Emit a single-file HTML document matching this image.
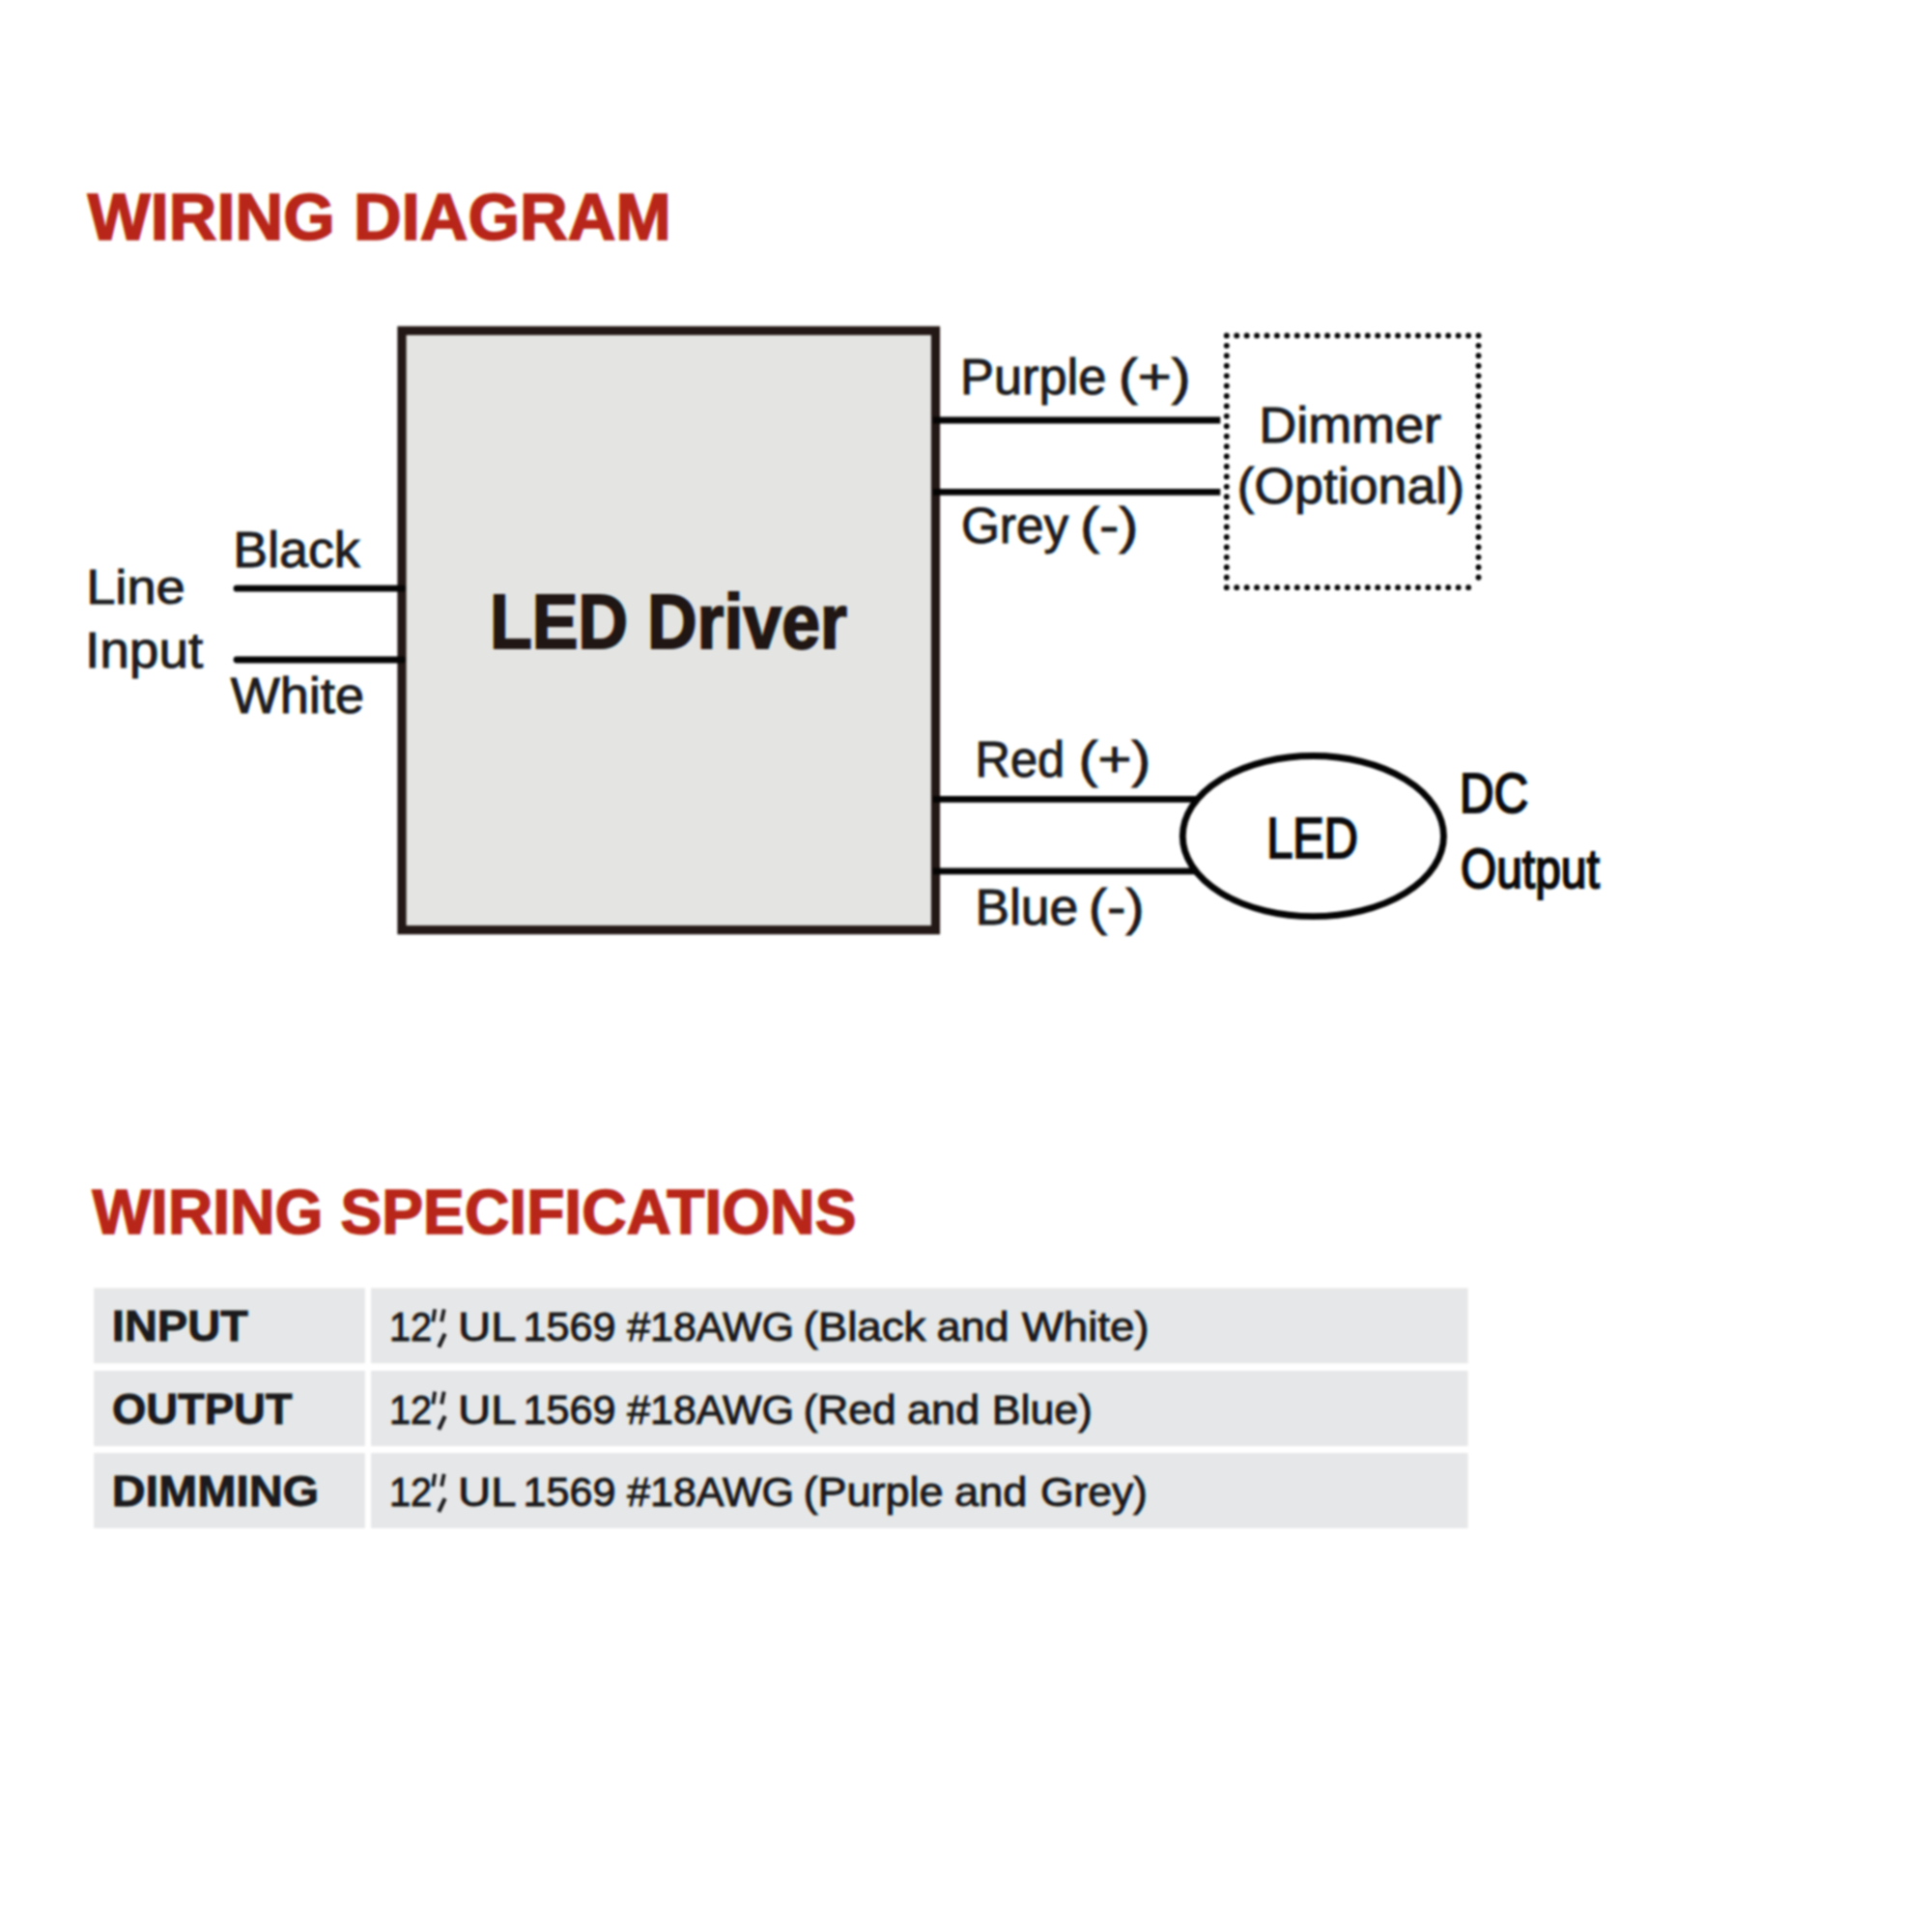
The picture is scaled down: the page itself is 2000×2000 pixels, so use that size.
<!DOCTYPE html>
<html><head><meta charset="utf-8"><title>Wiring Diagram</title>
<style>
html,body{margin:0;padding:0;background:#fff;}
body{width:2000px;height:2000px;overflow:hidden;}
svg{display:block;}
text{font-family:"Liberation Sans",sans-serif;white-space:pre;}
text,use{mix-blend-mode:multiply;}
</style></head>
<body>
<svg width="2000" height="2000" viewBox="0 0 2000 2000">
<defs>
<text id="h1" x="90.68" y="247.7" font-size="67.6" font-weight="bold" stroke-width="1.6" textLength="604.18" lengthAdjust="spacingAndGlyphs">WIRING DIAGRAM</text>
<text id="black" x="241.27" y="586.9" font-size="51.0" font-weight="normal" stroke-width="1.0" textLength="131.40" lengthAdjust="spacingAndGlyphs">Black</text>
<text id="line" x="89.24" y="624.5" font-size="50.0" font-weight="normal" stroke-width="1.0" textLength="102.44" lengthAdjust="spacingAndGlyphs">Line</text>
<text id="input" x="88.12" y="691.1" font-size="51.0" font-weight="normal" stroke-width="1.0" textLength="122.03" lengthAdjust="spacingAndGlyphs">Input</text>
<text id="white" x="238.68" y="737.6" font-size="51.0" font-weight="normal" stroke-width="1.0" textLength="138.32" lengthAdjust="spacingAndGlyphs">White</text>
<text id="driver" x="506.93" y="671.3" font-size="79.6" font-weight="bold" stroke-width="2.0" textLength="369.86" lengthAdjust="spacingAndGlyphs">LED Driver</text>
<text id="purple" x="993.99" y="408.2" font-size="51.0" font-weight="normal" stroke-width="1.0" textLength="151.38" lengthAdjust="spacingAndGlyphs">Purple</text>
<text id="purple2" x="1157.85" y="408.2" font-size="51.0" font-weight="normal" stroke-width="1.0" textLength="74.69" lengthAdjust="spacingAndGlyphs">(+)</text>
<text id="grey" x="994.97" y="561.5" font-size="51.0" font-weight="normal" stroke-width="1.0" textLength="111.18" lengthAdjust="spacingAndGlyphs">Grey</text>
<text id="grey2" x="1117.99" y="561.5" font-size="51.0" font-weight="normal" stroke-width="1.0" textLength="60.39" lengthAdjust="spacingAndGlyphs">(-)</text>
<text id="dimmer" x="1303.26" y="458.1" font-size="51.0" font-weight="normal" stroke-width="1.0" textLength="188.76" lengthAdjust="spacingAndGlyphs">Dimmer</text>
<text id="optional" x="1280.45" y="521.2" font-size="51.0" font-weight="normal" stroke-width="1.0" textLength="235.61" lengthAdjust="spacingAndGlyphs">(Optional)</text>
<text id="red" x="1009.39" y="803.6" font-size="51.0" font-weight="normal" stroke-width="1.0" textLength="92.75" lengthAdjust="spacingAndGlyphs">Red</text>
<text id="red2" x="1116.48" y="803.6" font-size="51.0" font-weight="normal" stroke-width="1.0" textLength="74.82" lengthAdjust="spacingAndGlyphs">(+)</text>
<text id="blue" x="1009.51" y="957.2" font-size="51.0" font-weight="normal" stroke-width="1.0" textLength="106.56" lengthAdjust="spacingAndGlyphs">Blue</text>
<text id="blue2" x="1126.80" y="957.2" font-size="51.0" font-weight="normal" stroke-width="1.0" textLength="57.84" lengthAdjust="spacingAndGlyphs">(-)</text>
<text id="led" x="1311.27" y="888.0" font-size="59.2" font-weight="normal" stroke-width="2.1" textLength="94.61" lengthAdjust="spacingAndGlyphs">LED</text>
<text id="dc" x="1510.90" y="841.0" font-size="56.5" font-weight="normal" stroke-width="2.1" textLength="71.17" lengthAdjust="spacingAndGlyphs">DC</text>
<text id="output" x="1511.99" y="918.9" font-size="58.0" font-weight="normal" stroke-width="2.1" textLength="143.77" lengthAdjust="spacingAndGlyphs">Output</text>
<text id="h2" x="95.50" y="1276.7" font-size="64.8" font-weight="bold" stroke-width="1.5" textLength="790.98" lengthAdjust="spacingAndGlyphs">WIRING SPECIFICATIONS</text>
<text id="t1l" x="115.87" y="1388.3" font-size="45.0" font-weight="bold" stroke-width="0.9" textLength="140.96" lengthAdjust="spacingAndGlyphs">INPUT</text>
<text id="t2l" x="115.98" y="1474.0" font-size="45.0" font-weight="bold" stroke-width="0.9" textLength="186.63" lengthAdjust="spacingAndGlyphs">OUTPUT</text>
<text id="t3l" x="115.78" y="1559.2" font-size="45.0" font-weight="bold" stroke-width="0.9" textLength="214.35" lengthAdjust="spacingAndGlyphs">DIMMING</text>
<text id="v0_0" x="403.03" y="1388.4" font-size="42.6" font-weight="normal" stroke-width="1.0" textLength="44.11" lengthAdjust="spacingAndGlyphs">12</text>
<text id="v0_1" x="474.08" y="1388.4" font-size="42.6" font-weight="normal" stroke-width="1.0" textLength="60.32" lengthAdjust="spacingAndGlyphs">UL</text>
<text id="v0_2" x="541.60" y="1388.4" font-size="42.6" font-weight="normal" stroke-width="1.0" textLength="95.91" lengthAdjust="spacingAndGlyphs">1569</text>
<text id="v0_3" x="649.18" y="1388.4" font-size="42.6" font-weight="normal" stroke-width="1.0" textLength="172.70" lengthAdjust="spacingAndGlyphs">#18AWG</text>
<text id="v0_4" x="831.55" y="1388.4" font-size="42.6" font-weight="normal" stroke-width="1.0" textLength="126.79" lengthAdjust="spacingAndGlyphs">(Black</text>
<text id="v0_5" x="969.57" y="1388.4" font-size="42.6" font-weight="normal" stroke-width="1.0" textLength="74.98" lengthAdjust="spacingAndGlyphs">and</text>
<text id="v0_6" x="1057.69" y="1388.4" font-size="42.6" font-weight="normal" stroke-width="1.0" textLength="131.86" lengthAdjust="spacingAndGlyphs">White)</text>
<text id="v1_0" x="403.03" y="1473.7" font-size="42.6" font-weight="normal" stroke-width="1.0" textLength="44.11" lengthAdjust="spacingAndGlyphs">12</text>
<text id="v1_1" x="474.08" y="1473.7" font-size="42.6" font-weight="normal" stroke-width="1.0" textLength="60.32" lengthAdjust="spacingAndGlyphs">UL</text>
<text id="v1_2" x="541.60" y="1473.7" font-size="42.6" font-weight="normal" stroke-width="1.0" textLength="95.91" lengthAdjust="spacingAndGlyphs">1569</text>
<text id="v1_3" x="649.18" y="1473.7" font-size="42.6" font-weight="normal" stroke-width="1.0" textLength="172.70" lengthAdjust="spacingAndGlyphs">#18AWG</text>
<text id="v1_4" x="831.60" y="1473.7" font-size="42.6" font-weight="normal" stroke-width="1.0" textLength="95.97" lengthAdjust="spacingAndGlyphs">(Red</text>
<text id="v1_5" x="939.01" y="1473.7" font-size="42.6" font-weight="normal" stroke-width="1.0" textLength="75.14" lengthAdjust="spacingAndGlyphs">and</text>
<text id="v1_6" x="1026.86" y="1473.7" font-size="42.6" font-weight="normal" stroke-width="1.0" textLength="104.12" lengthAdjust="spacingAndGlyphs">Blue)</text>
<text id="v2_0" x="403.03" y="1558.9" font-size="42.6" font-weight="normal" stroke-width="1.0" textLength="44.11" lengthAdjust="spacingAndGlyphs">12</text>
<text id="v2_1" x="474.08" y="1558.9" font-size="42.6" font-weight="normal" stroke-width="1.0" textLength="60.32" lengthAdjust="spacingAndGlyphs">UL</text>
<text id="v2_2" x="541.60" y="1558.9" font-size="42.6" font-weight="normal" stroke-width="1.0" textLength="95.91" lengthAdjust="spacingAndGlyphs">1569</text>
<text id="v2_3" x="649.18" y="1558.9" font-size="42.6" font-weight="normal" stroke-width="1.0" textLength="172.70" lengthAdjust="spacingAndGlyphs">#18AWG</text>
<text id="v2_4" x="831.59" y="1558.9" font-size="42.6" font-weight="normal" stroke-width="1.0" textLength="144.93" lengthAdjust="spacingAndGlyphs">(Purple</text>
<text id="v2_5" x="988.09" y="1558.9" font-size="42.6" font-weight="normal" stroke-width="1.0" textLength="75.17" lengthAdjust="spacingAndGlyphs">and</text>
<text id="v2_6" x="1076.98" y="1558.9" font-size="42.6" font-weight="normal" stroke-width="1.0" textLength="110.92" lengthAdjust="spacingAndGlyphs">Grey)</text>
</defs>
<defs><filter id="soft" x="0" y="0" width="2000" height="2000" filterUnits="userSpaceOnUse" color-interpolation-filters="sRGB"><feGaussianBlur stdDeviation="1.1"/></filter></defs>
<g filter="url(#soft)">
<rect x="-10" y="-10" width="2020" height="2020" fill="#ffffff"/>
<rect x="97.2" y="1333.4" width="280.6" height="77.9" fill="#e6e7e8"/>
<rect x="384" y="1333.4" width="1135.6" height="77.9" fill="#e6e7e8"/>
<rect x="97.2" y="1419.0" width="280.6" height="78.0" fill="#e6e7e8"/>
<rect x="384" y="1419.0" width="1135.6" height="78.0" fill="#e6e7e8"/>
<rect x="97.2" y="1504.2" width="280.6" height="77.8" fill="#e6e7e8"/>
<rect x="384" y="1504.2" width="1135.6" height="77.8" fill="#e6e7e8"/>
<g stroke="#1d1c20" stroke-linecap="butt" fill="none"><path d="M450.2 1355.3L448.2 1368.2M459.7 1355.3L457.1 1368.2" stroke-width="3.8"/><path d="M460.6 1380.6L454.2 1394.6" stroke-width="4.2"/></g>
<g stroke="#1d1c20" stroke-linecap="butt" fill="none"><path d="M450.2 1440.6L448.2 1453.5M459.7 1440.6L457.1 1453.5" stroke-width="3.8"/><path d="M460.6 1465.9L454.2 1479.9" stroke-width="4.2"/></g>
<g stroke="#1d1c20" stroke-linecap="butt" fill="none"><path d="M450.2 1525.8L448.2 1538.7M459.7 1525.8L457.1 1538.7" stroke-width="3.8"/><path d="M460.6 1551.1L454.2 1565.1" stroke-width="4.2"/></g>
<rect x="416" y="342.3" width="552.5" height="620.4" fill="#e4e4e3" stroke="#231815" stroke-width="9.2"/>
<g stroke="#050404" stroke-width="6.8" stroke-linecap="round">
<line x1="245.0" y1="609.2" x2="416.5" y2="609.2"/>
<line x1="245.0" y1="683" x2="416.5" y2="683"/>
</g>
<g stroke="#050404" stroke-width="6.8" stroke-linecap="butt">
<line x1="966" y1="435" x2="1263.3" y2="435"/>
<line x1="966" y1="509.4" x2="1263.3" y2="509.4"/>
<line x1="966" y1="827.3" x2="1250" y2="827.3"/>
<line x1="966" y1="901.8" x2="1250" y2="901.8"/>
</g>
<path d="M1530.55 597.72V347.4H1269.8V608.15H1520.3" fill="none" stroke="#050404" stroke-width="5.9" stroke-linecap="round" stroke-dasharray="0 10.43"/>
<ellipse cx="1359.4" cy="865.6" rx="135.1" ry="83.1" fill="#ffffff" stroke="#050404" stroke-width="6.8"/>
<use href="#h1" x="0.7" fill="#b8ffff" stroke="#b8ffff"/><use href="#h1" fill="#ff26ff" stroke="#ff26ff"/><use href="#h1" x="-0.7" fill="#ffff1a" stroke="#ffff1a"/>
<use href="#black" x="0.7" fill="#1dffff" stroke="#1dffff"/><use href="#black" fill="#ff1cff" stroke="#ff1cff"/><use href="#black" x="-0.7" fill="#ffff20" stroke="#ffff20"/>
<use href="#line" x="0.7" fill="#1dffff" stroke="#1dffff"/><use href="#line" fill="#ff1cff" stroke="#ff1cff"/><use href="#line" x="-0.7" fill="#ffff20" stroke="#ffff20"/>
<use href="#input" x="0.7" fill="#1dffff" stroke="#1dffff"/><use href="#input" fill="#ff1cff" stroke="#ff1cff"/><use href="#input" x="-0.7" fill="#ffff20" stroke="#ffff20"/>
<use href="#white" x="0.7" fill="#1dffff" stroke="#1dffff"/><use href="#white" fill="#ff1cff" stroke="#ff1cff"/><use href="#white" x="-0.7" fill="#ffff20" stroke="#ffff20"/>
<use href="#driver" x="0.7" fill="#23ffff" stroke="#23ffff"/><use href="#driver" fill="#ff18ff" stroke="#ff18ff"/><use href="#driver" x="-0.7" fill="#ffff15" stroke="#ffff15"/>
<use href="#purple" x="0.7" fill="#1dffff" stroke="#1dffff"/><use href="#purple" fill="#ff1cff" stroke="#ff1cff"/><use href="#purple" x="-0.7" fill="#ffff20" stroke="#ffff20"/>
<use href="#purple2" x="0.7" fill="#1dffff" stroke="#1dffff"/><use href="#purple2" fill="#ff1cff" stroke="#ff1cff"/><use href="#purple2" x="-0.7" fill="#ffff20" stroke="#ffff20"/>
<use href="#grey" x="0.7" fill="#1dffff" stroke="#1dffff"/><use href="#grey" fill="#ff1cff" stroke="#ff1cff"/><use href="#grey" x="-0.7" fill="#ffff20" stroke="#ffff20"/>
<use href="#grey2" x="0.7" fill="#1dffff" stroke="#1dffff"/><use href="#grey2" fill="#ff1cff" stroke="#ff1cff"/><use href="#grey2" x="-0.7" fill="#ffff20" stroke="#ffff20"/>
<use href="#dimmer" x="0.7" fill="#1dffff" stroke="#1dffff"/><use href="#dimmer" fill="#ff1cff" stroke="#ff1cff"/><use href="#dimmer" x="-0.7" fill="#ffff20" stroke="#ffff20"/>
<use href="#optional" x="0.7" fill="#1dffff" stroke="#1dffff"/><use href="#optional" fill="#ff1cff" stroke="#ff1cff"/><use href="#optional" x="-0.7" fill="#ffff20" stroke="#ffff20"/>
<use href="#red" x="0.7" fill="#1dffff" stroke="#1dffff"/><use href="#red" fill="#ff1cff" stroke="#ff1cff"/><use href="#red" x="-0.7" fill="#ffff20" stroke="#ffff20"/>
<use href="#red2" x="0.7" fill="#1dffff" stroke="#1dffff"/><use href="#red2" fill="#ff1cff" stroke="#ff1cff"/><use href="#red2" x="-0.7" fill="#ffff20" stroke="#ffff20"/>
<use href="#blue" x="0.7" fill="#1dffff" stroke="#1dffff"/><use href="#blue" fill="#ff1cff" stroke="#ff1cff"/><use href="#blue" x="-0.7" fill="#ffff20" stroke="#ffff20"/>
<use href="#blue2" x="0.7" fill="#1dffff" stroke="#1dffff"/><use href="#blue2" fill="#ff1cff" stroke="#ff1cff"/><use href="#blue2" x="-0.7" fill="#ffff20" stroke="#ffff20"/>
<use href="#led" x="0.7" fill="#0cffff" stroke="#0cffff"/><use href="#led" fill="#ff0bff" stroke="#ff0bff"/><use href="#led" x="-0.7" fill="#ffff0d" stroke="#ffff0d"/>
<use href="#dc" x="0.7" fill="#0cffff" stroke="#0cffff"/><use href="#dc" fill="#ff0bff" stroke="#ff0bff"/><use href="#dc" x="-0.7" fill="#ffff0d" stroke="#ffff0d"/>
<use href="#output" x="0.7" fill="#0cffff" stroke="#0cffff"/><use href="#output" fill="#ff0bff" stroke="#ff0bff"/><use href="#output" x="-0.7" fill="#ffff0d" stroke="#ffff0d"/>
<use href="#h2" x="0.7" fill="#b8ffff" stroke="#b8ffff"/><use href="#h2" fill="#ff26ff" stroke="#ff26ff"/><use href="#h2" x="-0.7" fill="#ffff1a" stroke="#ffff1a"/>
<use href="#t1l" x="0.7" fill="#1dffff" stroke="#1dffff"/><use href="#t1l" fill="#ff1cff" stroke="#ff1cff"/><use href="#t1l" x="-0.7" fill="#ffff20" stroke="#ffff20"/>
<use href="#t2l" x="0.7" fill="#1dffff" stroke="#1dffff"/><use href="#t2l" fill="#ff1cff" stroke="#ff1cff"/><use href="#t2l" x="-0.7" fill="#ffff20" stroke="#ffff20"/>
<use href="#t3l" x="0.7" fill="#1dffff" stroke="#1dffff"/><use href="#t3l" fill="#ff1cff" stroke="#ff1cff"/><use href="#t3l" x="-0.7" fill="#ffff20" stroke="#ffff20"/>
<use href="#v0_0" x="0.7" fill="#1dffff" stroke="#1dffff"/><use href="#v0_0" fill="#ff1cff" stroke="#ff1cff"/><use href="#v0_0" x="-0.7" fill="#ffff20" stroke="#ffff20"/>
<use href="#v0_1" x="0.7" fill="#1dffff" stroke="#1dffff"/><use href="#v0_1" fill="#ff1cff" stroke="#ff1cff"/><use href="#v0_1" x="-0.7" fill="#ffff20" stroke="#ffff20"/>
<use href="#v0_2" x="0.7" fill="#1dffff" stroke="#1dffff"/><use href="#v0_2" fill="#ff1cff" stroke="#ff1cff"/><use href="#v0_2" x="-0.7" fill="#ffff20" stroke="#ffff20"/>
<use href="#v0_3" x="0.7" fill="#1dffff" stroke="#1dffff"/><use href="#v0_3" fill="#ff1cff" stroke="#ff1cff"/><use href="#v0_3" x="-0.7" fill="#ffff20" stroke="#ffff20"/>
<use href="#v0_4" x="0.7" fill="#1dffff" stroke="#1dffff"/><use href="#v0_4" fill="#ff1cff" stroke="#ff1cff"/><use href="#v0_4" x="-0.7" fill="#ffff20" stroke="#ffff20"/>
<use href="#v0_5" x="0.7" fill="#1dffff" stroke="#1dffff"/><use href="#v0_5" fill="#ff1cff" stroke="#ff1cff"/><use href="#v0_5" x="-0.7" fill="#ffff20" stroke="#ffff20"/>
<use href="#v0_6" x="0.7" fill="#1dffff" stroke="#1dffff"/><use href="#v0_6" fill="#ff1cff" stroke="#ff1cff"/><use href="#v0_6" x="-0.7" fill="#ffff20" stroke="#ffff20"/>
<use href="#v1_0" x="0.7" fill="#1dffff" stroke="#1dffff"/><use href="#v1_0" fill="#ff1cff" stroke="#ff1cff"/><use href="#v1_0" x="-0.7" fill="#ffff20" stroke="#ffff20"/>
<use href="#v1_1" x="0.7" fill="#1dffff" stroke="#1dffff"/><use href="#v1_1" fill="#ff1cff" stroke="#ff1cff"/><use href="#v1_1" x="-0.7" fill="#ffff20" stroke="#ffff20"/>
<use href="#v1_2" x="0.7" fill="#1dffff" stroke="#1dffff"/><use href="#v1_2" fill="#ff1cff" stroke="#ff1cff"/><use href="#v1_2" x="-0.7" fill="#ffff20" stroke="#ffff20"/>
<use href="#v1_3" x="0.7" fill="#1dffff" stroke="#1dffff"/><use href="#v1_3" fill="#ff1cff" stroke="#ff1cff"/><use href="#v1_3" x="-0.7" fill="#ffff20" stroke="#ffff20"/>
<use href="#v1_4" x="0.7" fill="#1dffff" stroke="#1dffff"/><use href="#v1_4" fill="#ff1cff" stroke="#ff1cff"/><use href="#v1_4" x="-0.7" fill="#ffff20" stroke="#ffff20"/>
<use href="#v1_5" x="0.7" fill="#1dffff" stroke="#1dffff"/><use href="#v1_5" fill="#ff1cff" stroke="#ff1cff"/><use href="#v1_5" x="-0.7" fill="#ffff20" stroke="#ffff20"/>
<use href="#v1_6" x="0.7" fill="#1dffff" stroke="#1dffff"/><use href="#v1_6" fill="#ff1cff" stroke="#ff1cff"/><use href="#v1_6" x="-0.7" fill="#ffff20" stroke="#ffff20"/>
<use href="#v2_0" x="0.7" fill="#1dffff" stroke="#1dffff"/><use href="#v2_0" fill="#ff1cff" stroke="#ff1cff"/><use href="#v2_0" x="-0.7" fill="#ffff20" stroke="#ffff20"/>
<use href="#v2_1" x="0.7" fill="#1dffff" stroke="#1dffff"/><use href="#v2_1" fill="#ff1cff" stroke="#ff1cff"/><use href="#v2_1" x="-0.7" fill="#ffff20" stroke="#ffff20"/>
<use href="#v2_2" x="0.7" fill="#1dffff" stroke="#1dffff"/><use href="#v2_2" fill="#ff1cff" stroke="#ff1cff"/><use href="#v2_2" x="-0.7" fill="#ffff20" stroke="#ffff20"/>
<use href="#v2_3" x="0.7" fill="#1dffff" stroke="#1dffff"/><use href="#v2_3" fill="#ff1cff" stroke="#ff1cff"/><use href="#v2_3" x="-0.7" fill="#ffff20" stroke="#ffff20"/>
<use href="#v2_4" x="0.7" fill="#1dffff" stroke="#1dffff"/><use href="#v2_4" fill="#ff1cff" stroke="#ff1cff"/><use href="#v2_4" x="-0.7" fill="#ffff20" stroke="#ffff20"/>
<use href="#v2_5" x="0.7" fill="#1dffff" stroke="#1dffff"/><use href="#v2_5" fill="#ff1cff" stroke="#ff1cff"/><use href="#v2_5" x="-0.7" fill="#ffff20" stroke="#ffff20"/>
<use href="#v2_6" x="0.7" fill="#1dffff" stroke="#1dffff"/><use href="#v2_6" fill="#ff1cff" stroke="#ff1cff"/><use href="#v2_6" x="-0.7" fill="#ffff20" stroke="#ffff20"/>
</g>
</svg>
</body></html>
